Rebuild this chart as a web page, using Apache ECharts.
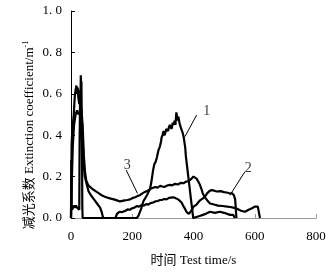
<!DOCTYPE html>
<html><head><meta charset="utf-8">
<script src="https://cdn.jsdelivr.net/npm/echarts@6/dist/echarts.min.js"></script>
<style>html,body{margin:0;padding:0;background:#fff}#c{width:333px;height:272px}</style>
</head><body><div id="c"></div>
<script>
const xTicks = [0, 200, 400, 600, 800];
const yTicks = [0, 0.2, 0.4, 0.6, 0.8, 1.0];
const curve1 = [[0,0],[1,0.28],[2,0.05],[4,0.04],[8,0.06],[12,0.05],[16,0.06],[20,0.05],[24,0.05],[27,0.04],[28,0.35],[30,0.62],[31,0.58],[32,0.69],[33,0.64],[34,0.66],[35,0.5],[36,0.3],[37,0.05],[38,0],[215,0],[220,0.01],[228,0.04],[236,0.08],[242,0.095],[248,0.11],[253,0.125],[258,0.14],[262,0.17],[265,0.2],[268,0.23],[272,0.26],[276,0.27],[280,0.29],[283,0.31],[286,0.33],[289,0.34],[291,0.35],[294,0.37],[296,0.39],[299,0.4],[302,0.42],[305,0.4],[308,0.41],[311,0.43],[314,0.43],[317,0.42],[320,0.44],[323,0.45],[326,0.45],[328,0.43],[330,0.44],[332,0.46],[334,0.46],[336,0.45],[338,0.47],[341,0.45],[343,0.49],[344,0.51],[346,0.49],[348,0.47],[350,0.49],[352,0.48],[354,0.46],[356,0.45],[360,0.43],[365,0.41],[368,0.39],[370,0.37],[373,0.34],[375,0.3],[379,0.25],[383,0.2],[387,0.15],[391,0.1],[395,0.05],[399,0],[420,0.01],[440,0.02],[454,0.03],[470,0.025],[486,0.03],[500,0.025],[519,0.015],[530,0.015],[535,0]];
const curve2 = [[0,0],[2,0.35],[4,0.42],[6,0.45],[9,0.5],[12,0.58],[15,0.62],[18,0.64],[20,0.6],[22,0.63],[24,0.58],[27,0.55],[30,0.56],[33,0.53],[36,0.45],[39,0.35],[42,0.25],[45,0.2],[50,0.17],[57,0.13],[65,0.11],[75,0.09],[85,0.07],[95,0.05],[100,0.03],[105,0],[145,0],[150,0.02],[158,0.03],[165,0.028],[170,0.033],[178,0.035],[185,0.042],[192,0.04],[200,0.047],[207,0.05],[214,0.057],[222,0.055],[230,0.062],[238,0.06],[245,0.067],[252,0.065],[260,0.072],[268,0.075],[275,0.08],[283,0.082],[291,0.087],[298,0.088],[305,0.092],[312,0.09],[320,0.097],[326,0.095],[333,0.1],[340,0.097],[345,0.095],[350,0.09],[356,0.085],[361,0.075],[366,0.06],[372,0.045],[377,0.03],[385,0.02],[390,0.03],[395,0.04],[400,0.055],[405,0.06],[410,0.065],[415,0.075],[421,0.085],[426,0.09],[431,0.095],[438,0.105],[445,0.12],[452,0.13],[459,0.135],[464,0.13],[468,0.132],[472,0.127],[476,0.128],[482,0.125],[488,0.13],[494,0.126],[500,0.125],[506,0.12],[512,0.122],[519,0.118],[526,0.12],[532,0.11],[536,0.09],[538,0.05],[540,0]];
const curve3 = [[0,0],[3,0.2],[6,0.35],[10,0.45],[15,0.5],[20,0.52],[25,0.5],[30,0.5],[34,0.52],[38,0.45],[42,0.3],[46,0.22],[50,0.18],[56,0.16],[62,0.15],[66,0.145],[70,0.14],[75,0.135],[80,0.13],[85,0.125],[90,0.12],[95,0.117],[100,0.11],[107,0.105],[115,0.1],[121,0.098],[127,0.095],[133,0.092],[140,0.09],[150,0.085],[160,0.08],[168,0.083],[175,0.085],[184,0.087],[193,0.09],[202,0.097],[210,0.1],[218,0.107],[225,0.11],[232,0.118],[240,0.125],[249,0.13],[258,0.14],[266,0.145],[275,0.15],[283,0.147],[291,0.155],[298,0.152],[305,0.15],[314,0.157],[323,0.16],[331,0.158],[340,0.165],[349,0.162],[359,0.17],[367,0.168],[375,0.175],[383,0.178],[390,0.185],[395,0.19],[400,0.2],[405,0.195],[410,0.19],[416,0.175],[421,0.16],[426,0.14],[430,0.12],[437,0.1],[445,0.085],[454,0.07],[467,0.065],[480,0.06],[495,0.058],[510,0.055],[520,0.053],[530,0.05],[542,0.045],[555,0.035],[568,0.03],[574,0.035],[580,0.04],[591,0.047],[600,0.055],[610,0.055],[615,0.05],[617,0]];
const labelNames = ['1', '2', '3'];
const labelPos = [[443,0.513],[579,0.24],[184,0.256]];
const leaders = [[[410,0.497],[372,0.393]],[[568,0.224],[519,0.11]],[[180,0.232],[217,0.119]]];

const serif = '"Times New Roman","Liberation Serif","Noto Sans CJK SC",serif';
const curveSeries = [curve1, curve2, curve3].map(d => ({
  type: 'line', data: d, showSymbol: false, symbol: 'none', silent: true,
  lineStyle: {color: '#000', width: 2.2}, z: 3
}));
const leaderSeries = leaders.map(d => ({
  type: 'line', data: d, showSymbol: false, symbol: 'none', silent: true,
  lineStyle: {color: '#000', width: 1}, z: 4
}));
const labelSeries = {
  type: 'scatter', symbolSize: 0, silent: true, z: 5,
  data: labelPos.map((p, i) => ({value: p, name: labelNames[i]})),
  label: {show: true, position: 'inside', formatter: p => p.name, color: '#000', fontSize: 14, fontFamily: serif}
};

const chart = echarts.init(document.getElementById('c'), null, {renderer: 'canvas'});
chart.setOption({
  animation: false,
  backgroundColor: '#fff',
  grid: {left: 71, right: 17, top: 11, bottom: 54},
  xAxis: {
    type: 'value', min: xTicks[0], max: xTicks[xTicks.length - 1], interval: 200,
    name: '时间 Test time/s', nameLocation: 'middle', nameGap: 36,
    nameTextStyle: {color: '#000', fontSize: 13, fontFamily: serif},
    axisLine: {show: true, lineStyle: {color: '#999', width: 1}},
    axisTick: {show: true, inside: true, length: 4, lineStyle: {color: '#999'}},
    axisLabel: {color: '#000', fontSize: 13, fontFamily: serif, margin: 12},
    splitLine: {show: false}
  },
  yAxis: {
    type: 'value', min: yTicks[0], max: yTicks[yTicks.length - 1], interval: 0.2,
    axisLine: {show: true, lineStyle: {color: '#000', width: 1}},
    axisTick: {show: true, inside: true, length: 4, lineStyle: {color: '#000'}},
    axisLabel: {color: '#000', fontSize: 13, fontFamily: serif, margin: 9,
      formatter: v => v.toFixed(1).replace('.', '. ')},
    splitLine: {show: false}
  },
  graphic: [{
    type: 'text', x: 30, y: 135, rotation: Math.PI / 2,
    style: {
      text: '减光系数 Extinction coefficient/m{sup|-1}',
      font: '13px ' + serif, fill: '#000', align: 'center', verticalAlign: 'middle',
      rich: {sup: {fontSize: 8, fontFamily: serif, fill: '#000', verticalAlign: 'top', padding: [0,0,8,0]}}
    }
  }],
  series: [...curveSeries, ...leaderSeries, labelSeries]
});
</script></body></html>
